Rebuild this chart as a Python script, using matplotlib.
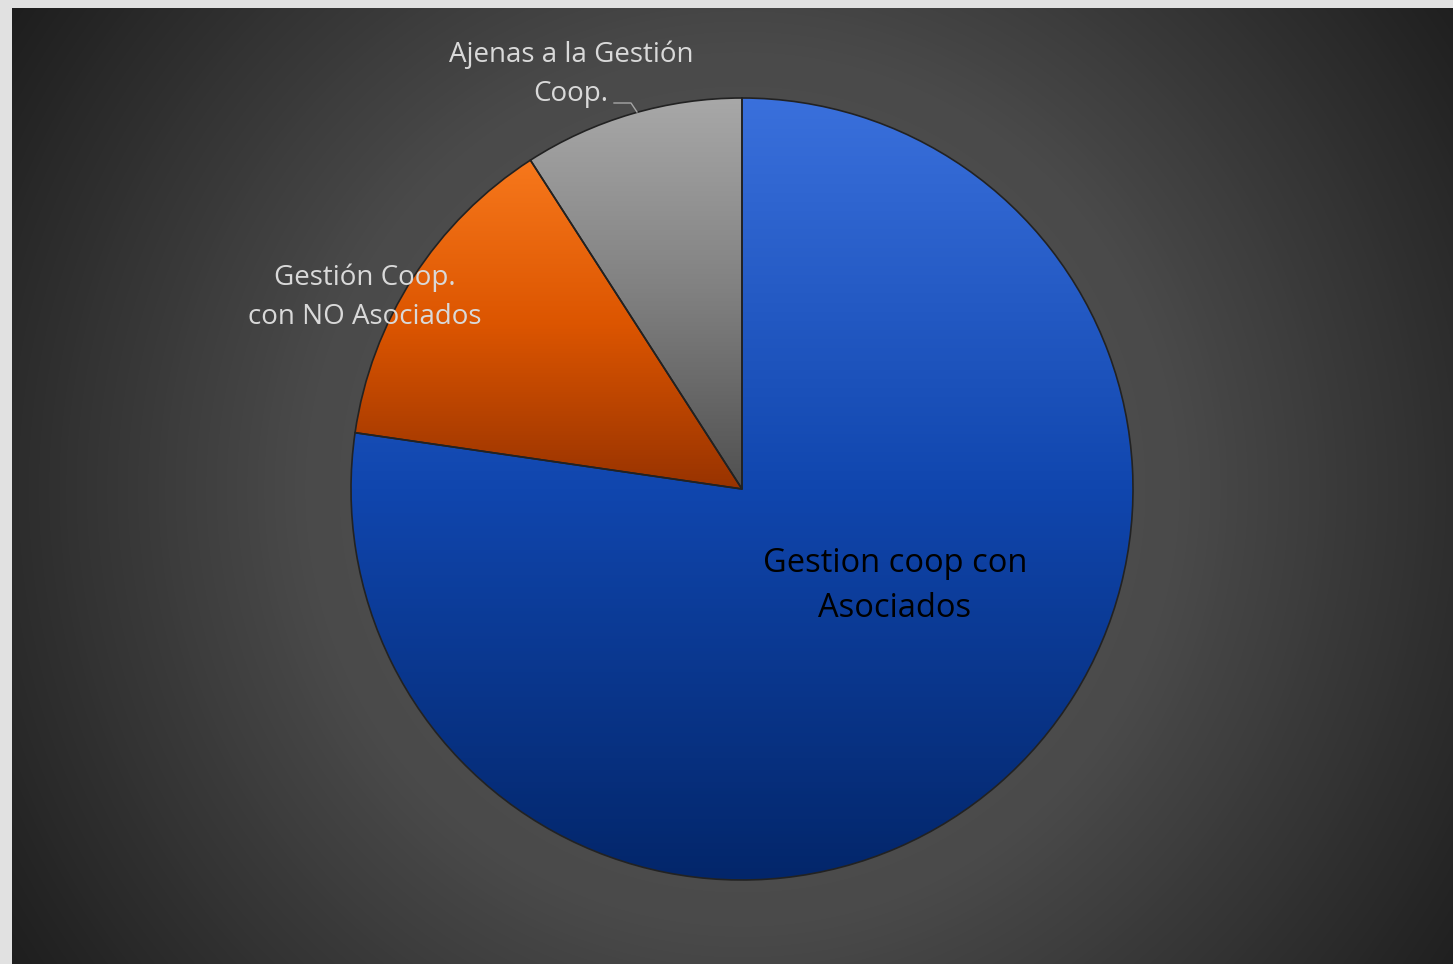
import numpy as np
import matplotlib.pyplot as plt
from matplotlib.colors import LinearSegmentedColormap

labels = ['Gestion coop con\nAsociados', 'Gestión Coop.\ncon NO Asociados', 'Ajenas a la Gestión\nCoop.']
shares = [77.3, 13.6, 9.1]
slice_colors = [['#3a70dc', '#1046ae', '#03266a'],
                ['#f7781c', '#dc5500', '#983300'],
                ['#a8a8a8', '#808080', '#505050']]

W, H = 1453, 964
cx, cy, r = 742, 489, 391

fig = plt.figure(figsize=(W / 100, H / 100), dpi=100, facecolor='#e1e1e1')

# dark radial background
bg = fig.add_axes([12 / W, 0, 1 - 12 / W, 1 - 8 / H])
yy, xx = np.mgrid[8:H, 12:W]
dist = np.clip(np.hypot(xx - cx, yy - cy) / 880, 0, 1)
bg_cmap = LinearSegmentedColormap.from_list('bg', ['#575757', '#4a4a4a', '#1e1e1e'])
bg.imshow(dist, cmap=bg_cmap, aspect='auto', interpolation='bilinear')
bg.axis('off')

ax = fig.add_axes([(cx - r) / W, (H - cy - r) / H, 2 * r / W, 2 * r / H])
wedges, _ = ax.pie(shares, startangle=90, counterclock=False, radius=1,
                   wedgeprops=dict(edgecolor='#222222', linewidth=1.2))
ax.axis('off')

# vertical gradient inside each slice
for w, cols in zip(wedges, slice_colors):
    th = np.radians(np.linspace(w.theta1, w.theta2, 200))
    ys = np.concatenate([np.sin(th), [0]])
    xs = np.concatenate([np.cos(th), [0]])
    grad = np.linspace(0, 1, 256).reshape(-1, 1)
    cmap = LinearSegmentedColormap.from_list('g', cols)
    im = ax.imshow(grad, cmap=cmap, aspect='auto', origin='upper',
                   extent=[xs.min(), xs.max(), ys.min(), ys.max()], zorder=1)
    im.set_clip_path(w)
    w.set_facecolor('none')
    w.set_zorder(2)
ax.set_xlim(-1, 1)
ax.set_ylim(-1, 1)


def to_data(px, py):
    return (px - cx) / r, (cy - py) / r


ax.text(*to_data(895, 586), labels[0], ha='center', va='center', fontsize=23.5,
        color='black', family='Open Sans', linespacing=1.45)
ax.text(*to_data(365, 297), labels[1], ha='center', va='center', fontsize=20,
        color='#d9d9d9', family='Open Sans', linespacing=1.5)
ax.text(*to_data(571, 74), labels[2], ha='center', va='center', fontsize=20,
        color='#d9d9d9', family='Open Sans', linespacing=1.5)

# leader line for the small slice
lx, ly = zip(to_data(614, 103), to_data(631, 103), to_data(637, 112))
ax.plot(lx, ly, color='#a6a6a6', linewidth=1, clip_on=False)

fig.savefig('out.png', dpi=100, facecolor=fig.get_facecolor())
